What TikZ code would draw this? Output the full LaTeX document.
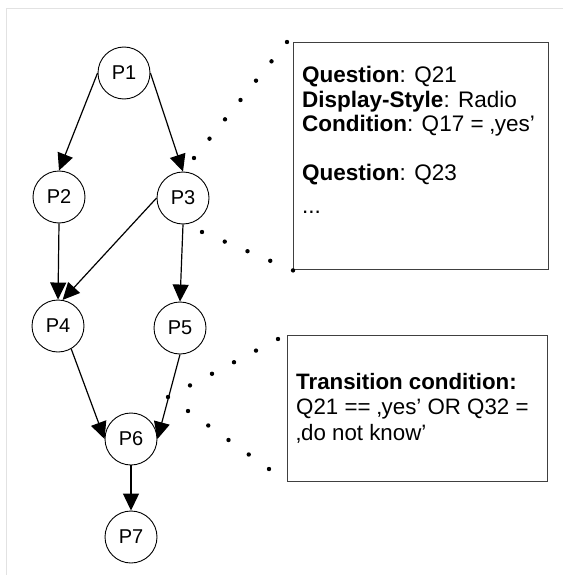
\documentclass[tikz,border=0pt]{standalone}
\usepackage{fontspec}
\setmainfont{Liberation Sans}
\usetikzlibrary{positioning, arrows.meta, calc}
\definecolor{frameline}{HTML}{E2E2E2}
\definecolor{boxline}{HTML}{404040}
\tikzset{
  state/.style    = {circle, draw=black, line width=0.9pt, minimum size=52pt,
                     inner sep=0pt, font=\fontsize{20}{20}\selectfont},
  infobox/.style  = {rectangle, draw=boxline, line width=1.4pt, inner sep=0pt,
                     anchor=north west},
  infotext/.style = {anchor=north west, inner sep=0pt, align=left,
                     font=\fontsize{22.5}{24.5}\selectfont},
  trans/.style    = {-{Triangle[length=17pt,width=16pt]}, line width=1.2pt},
}

\begin{document}
\begin{tikzpicture}[x=1pt, y=-1pt]
  \useasboundingbox (0,0) rectangle (563,575);
  \draw[frameline, line width=1pt] (6,575) -- (6,9) -- (563,9);

  % pages
  \node[state] (p1) at (124,73) {P1};
  \node[state] (p2) at (59,197) {P2};
  \node[state] (p3) at (183,198) {P3};
  \node[state] (p4) at (58,326) {P4};
  \node[state] (p5) at (180,328) {P5};
  \node[state] (p6) at (131,439) {P6};
  \node[state] (p7) at (131,537) {P7};

  \draw[trans] (p1.west) -- (p2.north);
  \draw[trans] (p1.east) -- (p3.north);
  \draw[trans] (p2.south) -- (p4.north);
  \draw[trans] (p3.west) -- (p4.80);
  \draw[trans] (p3.south) -- (p5.north);
  \draw[trans] (p4.-60) -- (p6.west);
  \draw[trans] (p5.south) -- (p6.east);
  \draw[trans] (p6.south) -- (p7.north);

  % page content
  \node[infobox, minimum width=255pt, minimum height=227pt] (qbox) at (293,42) {};
  \node[infotext] (qtext) at (302,66)
       {\textbf{Question}: Q21\\
        \textbf{Display-Style}: Radio\\
        \textbf{Condition}: Q17 = ‚yes’\\[24.5pt]
        \textbf{Question}: Q23\\[8pt]
        ...};
  \coordinate (qa) at (194,158);
  \coordinate (qb) at (287,42);
  \coordinate (qc) at (202,232);
  \foreach \i in {0,...,6} \fill ($(qa)!\i/6!(qb)$) circle (2.2);
  \foreach \i in {0,...,4} \fill ($(qc)!\i/4!(qbox.south west)$) circle (2.2);

  % transition
  \node[infobox, minimum width=260pt, minimum height=146pt] (tbox) at (287,335) {};
  \node[infotext, font=\fontsize{22.3}{25.5}\selectfont] (ttext) at (296,373)
       {\textbf{Transition condition:}\\
        Q21 == ‚yes’ OR Q32 =\\
        ‚do not know’};
  \coordinate (ta) at (168,397);
  \coordinate (tb) at (278,339);
  \coordinate (tc) at (188,411);
  \coordinate (td) at (269,469);
  \foreach \i in {0,...,5} \fill ($(ta)!\i/5!(tb)$) circle (2.2);
  \foreach \i in {0,...,4} \fill ($(tc)!\i/4!(td)$) circle (2.2);

\end{tikzpicture}
\end{document}
